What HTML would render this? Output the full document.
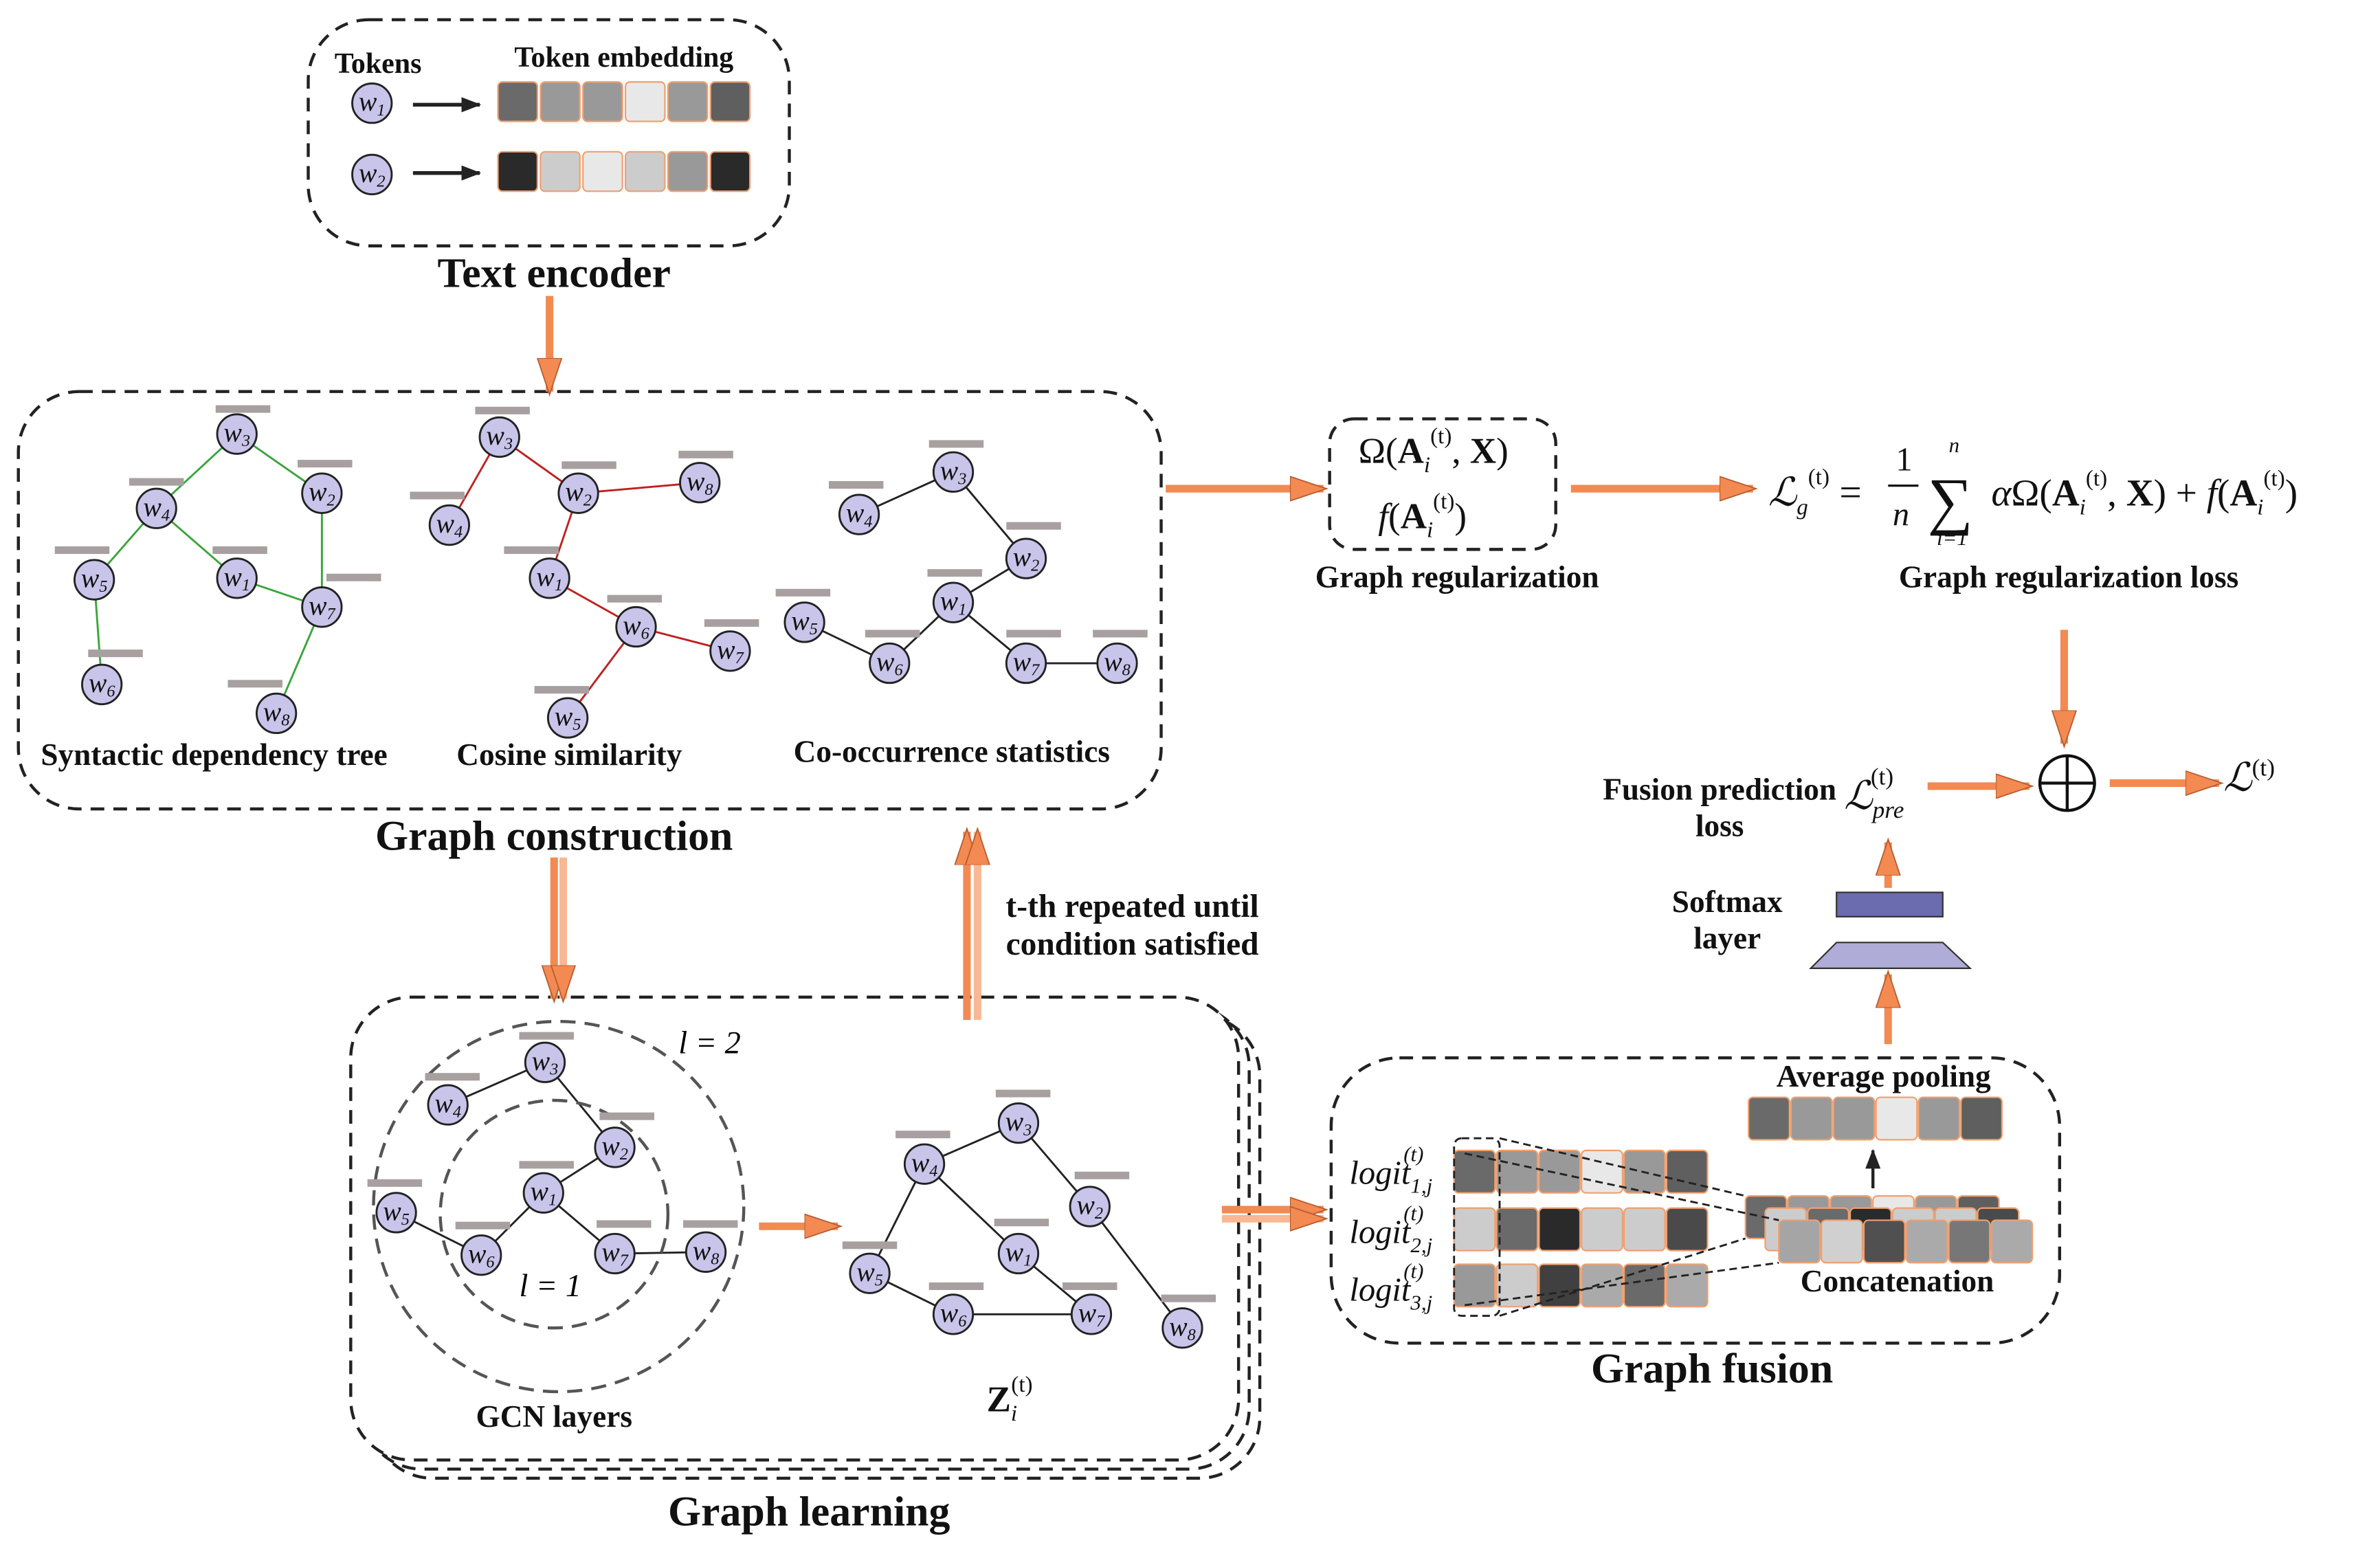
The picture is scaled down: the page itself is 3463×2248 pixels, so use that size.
<!DOCTYPE html>
<html><head><meta charset="utf-8"><style>html,body{margin:0;padding:0;background:#fff}svg{display:block}</style></head><body>
<svg width="3463" height="2248" viewBox="0 0 1568 1018" xmlns="http://www.w3.org/2000/svg" font-family="Liberation Serif, serif">
<defs>
<marker id="oh" markerUnits="userSpaceOnUse" markerWidth="26" markerHeight="20" refX="22" refY="10" orient="auto"><path d="M0,2 L24,10 L0,18 Z" fill="#f28a52" stroke="#b85a30" stroke-width="0.8"/></marker>
<marker id="bh" markerUnits="userSpaceOnUse" markerWidth="14" markerHeight="12" refX="12" refY="6" orient="auto"><path d="M0,1 L13,6 L0,11 Z" fill="#222"/></marker>
</defs>
<g fill="none" stroke="#222" stroke-width="2" stroke-dasharray="9,6">
<rect x="203" y="13" width="317" height="149" rx="40"/>
<rect x="12" y="258" width="753" height="275" rx="40"/>
<rect x="876" y="276" width="149" height="86" rx="16"/>
<rect x="877" y="697" width="480" height="188" rx="45"/>
<rect x="245" y="669" width="585" height="305" rx="40"/>
<rect x="238" y="663" width="585" height="305" rx="40"/>
<rect x="231" y="657" width="585" height="305" rx="40" fill="#fff"/>
</g>
<g font-weight="bold" text-anchor="middle" fill="#111">
<text x="365" y="189" font-size="28">Text encoder</text>
<text x="365" y="560" font-size="28">Graph construction</text>
<text x="533" y="1005" font-size="28">Graph learning</text>
<text x="1128" y="911" font-size="28">Graph fusion</text>
<text x="249" y="48" font-size="19">Tokens</text>
<text x="411" y="44" font-size="19">Token embedding</text>
<text x="141" y="504" font-size="20.5">Syntactic dependency tree</text>
<text x="375" y="504" font-size="20.5">Cosine similarity</text>
<text x="627" y="502" font-size="20.5">Co-occurrence statistics</text>
<text x="960" y="387" font-size="20.5">Graph regularization</text>
<text x="1363" y="387" font-size="20.5">Graph regularization loss</text>
<text x="1133" y="527" font-size="20.5">Fusion prediction</text>
<text x="1133" y="551" font-size="20.5">loss</text>
<text x="1138" y="601" font-size="20.5">Softmax</text>
<text x="1138" y="625" font-size="20.5">layer</text>
<text x="1241" y="716" font-size="20.5">Average pooling</text>
<text x="1250" y="851" font-size="20.5">Concatenation</text>
<text x="365" y="940" font-size="20.5">GCN layers</text>
<text x="746" y="604" font-size="21.5">t-th repeated until</text>
<text x="746" y="629" font-size="21.5">condition satisfied</text>
</g>
<g stroke="#f28a52" stroke-width="5" fill="none" marker-end="url(#oh)">
<line x1="362" y1="195" x2="362" y2="258"/>
<line x1="768" y1="322" x2="872" y2="322"/>
<line x1="1035" y1="322" x2="1155" y2="322"/>
<line x1="1360" y1="415" x2="1360" y2="490"/>
<line x1="1390" y1="516" x2="1462" y2="516"/>
<line x1="1270" y1="518" x2="1337" y2="518"/>
<line x1="1244" y1="585" x2="1244" y2="555"/>
<line x1="1244" y1="688" x2="1244" y2="642"/>
<line x1="500" y1="808" x2="552" y2="808"/>
<line x1="805" y1="797" x2="872" y2="797"/>
<line x1="805" y1="803" x2="872" y2="803" stroke="#f8b894"/>
<line x1="365" y1="565" x2="365" y2="658"/>
<line x1="371" y1="565" x2="371" y2="658" stroke="#f8b894"/>
<line x1="637" y1="672" x2="637" y2="548"/>
<line x1="644" y1="672" x2="644" y2="548" stroke="#f8b894"/>
</g>
<g stroke="#222" stroke-width="2.5" marker-end="url(#bh)"><line x1="272" y1="69" x2="316" y2="69"/><line x1="272" y1="114" x2="316" y2="114"/></g>
<g stroke="#f0a070" stroke-width="1">
<rect x="328" y="54" width="26" height="26" rx="3" fill="#6a6a6a"/><rect x="356" y="54" width="26" height="26" rx="3" fill="#999"/><rect x="384" y="54" width="26" height="26" rx="3" fill="#999"/><rect x="412" y="54" width="26" height="26" rx="3" fill="#e8e8e8"/><rect x="440" y="54" width="26" height="26" rx="3" fill="#999"/><rect x="468" y="54" width="26" height="26" rx="3" fill="#5f5f5f"/>
<rect x="328" y="100" width="26" height="26" rx="3" fill="#2a2a2a"/><rect x="356" y="100" width="26" height="26" rx="3" fill="#ccc"/><rect x="384" y="100" width="26" height="26" rx="3" fill="#e8e8e8"/><rect x="412" y="100" width="26" height="26" rx="3" fill="#ccc"/><rect x="440" y="100" width="26" height="26" rx="3" fill="#999"/><rect x="468" y="100" width="26" height="26" rx="3" fill="#2a2a2a"/>
</g>
<g stroke="#3aa53a" stroke-width="1.3">
<line x1="156" y1="286" x2="103" y2="335"/><line x1="156" y1="286" x2="212" y2="325"/><line x1="103" y1="335" x2="62" y2="382"/><line x1="103" y1="335" x2="156" y2="381"/><line x1="156" y1="381" x2="212" y2="400"/><line x1="212" y1="325" x2="212" y2="400"/><line x1="62" y1="382" x2="67" y2="451"/><line x1="212" y1="400" x2="182" y2="470"/>
</g>
<g stroke="#c02020" stroke-width="1.3">
<line x1="329" y1="288" x2="296" y2="346"/><line x1="329" y1="288" x2="381" y2="325"/><line x1="381" y1="325" x2="461" y2="318"/><line x1="381" y1="325" x2="362" y2="381"/><line x1="362" y1="381" x2="419" y2="413"/><line x1="419" y1="413" x2="481" y2="429"/><line x1="419" y1="413" x2="374" y2="473"/>
</g>
<g stroke="#222" stroke-width="1.3">
<line x1="628" y1="311" x2="566" y2="339"/><line x1="628" y1="311" x2="676" y2="368"/><line x1="676" y1="368" x2="628" y2="397"/><line x1="628" y1="397" x2="586" y2="437"/><line x1="530" y1="410" x2="586" y2="437"/><line x1="628" y1="397" x2="676" y2="437"/><line x1="676" y1="437" x2="736" y2="437"/>
<line x1="359" y1="700" x2="295" y2="728"/><line x1="359" y1="700" x2="405" y2="756"/><line x1="405" y1="756" x2="358" y2="786"/><line x1="358" y1="786" x2="317" y2="827"/><line x1="358" y1="786" x2="405" y2="826"/><line x1="261" y1="799" x2="317" y2="827"/><line x1="405" y1="826" x2="465" y2="825"/>
<line x1="671" y1="740" x2="609" y2="767"/><line x1="671" y1="740" x2="718" y2="795"/><line x1="609" y1="767" x2="671" y2="826"/><line x1="609" y1="767" x2="573" y2="839"/><line x1="573" y1="839" x2="628" y2="866"/><line x1="628" y1="866" x2="719" y2="866"/><line x1="671" y1="826" x2="719" y2="866"/><line x1="718" y1="795" x2="779" y2="875"/>
</g>
<g fill="none" stroke="#555" stroke-width="2" stroke-dasharray="10,6"><circle cx="368" cy="795" r="122"/><circle cx="365" cy="800" r="75"/></g>
<g font-style="italic" font-size="21"><text x="447" y="694">l = 2</text><text x="342" y="854">l = 1</text></g>
<g fill="#c8c4ea" stroke="#222" stroke-width="1.3">
<circle cx="245" cy="68" r="13"/><circle cx="245" cy="115" r="13"/>
<circle cx="156" cy="286" r="13"/><circle cx="103" cy="335" r="13"/><circle cx="212" cy="325" r="13"/><circle cx="156" cy="381" r="13"/><circle cx="62" cy="382" r="13"/><circle cx="212" cy="400" r="13"/><circle cx="67" cy="451" r="13"/><circle cx="182" cy="470" r="13"/>
<circle cx="329" cy="288" r="13"/><circle cx="296" cy="346" r="13"/><circle cx="381" cy="325" r="13"/><circle cx="461" cy="318" r="13"/><circle cx="362" cy="381" r="13"/><circle cx="419" cy="413" r="13"/><circle cx="481" cy="429" r="13"/><circle cx="374" cy="473" r="13"/>
<circle cx="628" cy="311" r="13"/><circle cx="566" cy="339" r="13"/><circle cx="676" cy="368" r="13"/><circle cx="628" cy="397" r="13"/><circle cx="530" cy="410" r="13"/><circle cx="586" cy="437" r="13"/><circle cx="676" cy="437" r="13"/><circle cx="736" cy="437" r="13"/>
<circle cx="359" cy="700" r="13"/><circle cx="295" cy="728" r="13"/><circle cx="405" cy="756" r="13"/><circle cx="358" cy="786" r="13"/><circle cx="261" cy="799" r="13"/><circle cx="317" cy="827" r="13"/><circle cx="405" cy="826" r="13"/><circle cx="465" cy="825" r="13"/>
<circle cx="671" cy="740" r="13"/><circle cx="609" cy="767" r="13"/><circle cx="718" cy="795" r="13"/><circle cx="671" cy="826" r="13"/><circle cx="573" cy="839" r="13"/><circle cx="628" cy="866" r="13"/><circle cx="719" cy="866" r="13"/><circle cx="779" cy="875" r="13"/>
</g>
<g font-style="italic" font-size="18" text-anchor="middle" fill="#111">
<text x="245" y="73">w<tspan font-size="11" dy="3">1</tspan></text><text x="245" y="120">w<tspan font-size="11" dy="3">2</tspan></text>
<text x="156" y="291">w<tspan font-size="11" dy="3">3</tspan></text><text x="103" y="340">w<tspan font-size="11" dy="3">4</tspan></text><text x="212" y="330">w<tspan font-size="11" dy="3">2</tspan></text><text x="156" y="386">w<tspan font-size="11" dy="3">1</tspan></text><text x="62" y="387">w<tspan font-size="11" dy="3">5</tspan></text><text x="212" y="405">w<tspan font-size="11" dy="3">7</tspan></text><text x="67" y="456">w<tspan font-size="11" dy="3">6</tspan></text><text x="182" y="475">w<tspan font-size="11" dy="3">8</tspan></text>
<text x="329" y="293">w<tspan font-size="11" dy="3">3</tspan></text><text x="296" y="351">w<tspan font-size="11" dy="3">4</tspan></text><text x="381" y="330">w<tspan font-size="11" dy="3">2</tspan></text><text x="461" y="323">w<tspan font-size="11" dy="3">8</tspan></text><text x="362" y="386">w<tspan font-size="11" dy="3">1</tspan></text><text x="419" y="418">w<tspan font-size="11" dy="3">6</tspan></text><text x="481" y="434">w<tspan font-size="11" dy="3">7</tspan></text><text x="374" y="478">w<tspan font-size="11" dy="3">5</tspan></text>
<text x="628" y="316">w<tspan font-size="11" dy="3">3</tspan></text><text x="566" y="344">w<tspan font-size="11" dy="3">4</tspan></text><text x="676" y="373">w<tspan font-size="11" dy="3">2</tspan></text><text x="628" y="402">w<tspan font-size="11" dy="3">1</tspan></text><text x="530" y="415">w<tspan font-size="11" dy="3">5</tspan></text><text x="586" y="442">w<tspan font-size="11" dy="3">6</tspan></text><text x="676" y="442">w<tspan font-size="11" dy="3">7</tspan></text><text x="736" y="442">w<tspan font-size="11" dy="3">8</tspan></text>
<text x="359" y="705">w<tspan font-size="11" dy="3">3</tspan></text><text x="295" y="733">w<tspan font-size="11" dy="3">4</tspan></text><text x="405" y="761">w<tspan font-size="11" dy="3">2</tspan></text><text x="358" y="791">w<tspan font-size="11" dy="3">1</tspan></text><text x="261" y="804">w<tspan font-size="11" dy="3">5</tspan></text><text x="317" y="832">w<tspan font-size="11" dy="3">6</tspan></text><text x="405" y="831">w<tspan font-size="11" dy="3">7</tspan></text><text x="465" y="830">w<tspan font-size="11" dy="3">8</tspan></text>
<text x="671" y="745">w<tspan font-size="11" dy="3">3</tspan></text><text x="609" y="772">w<tspan font-size="11" dy="3">4</tspan></text><text x="718" y="800">w<tspan font-size="11" dy="3">2</tspan></text><text x="671" y="831">w<tspan font-size="11" dy="3">1</tspan></text><text x="573" y="844">w<tspan font-size="11" dy="3">5</tspan></text><text x="628" y="871">w<tspan font-size="11" dy="3">6</tspan></text><text x="719" y="871">w<tspan font-size="11" dy="3">7</tspan></text><text x="779" y="880">w<tspan font-size="11" dy="3">8</tspan></text>
</g>
<g fill="#a8a0a0">
<rect x="142" y="267" width="36" height="5"/><rect x="85" y="315" width="36" height="5"/><rect x="196" y="303" width="36" height="5"/><rect x="140" y="360" width="36" height="5"/><rect x="36" y="360" width="36" height="5"/><rect x="215" y="378" width="36" height="5"/><rect x="58" y="428" width="36" height="5"/><rect x="150" y="448" width="36" height="5"/>
<rect x="313" y="268" width="36" height="5"/><rect x="270" y="324" width="36" height="5"/><rect x="370" y="304" width="36" height="5"/><rect x="447" y="297" width="36" height="5"/><rect x="332" y="360" width="36" height="5"/><rect x="400" y="392" width="36" height="5"/><rect x="464" y="408" width="36" height="5"/><rect x="352" y="452" width="36" height="5"/>
<rect x="612" y="290" width="36" height="5"/><rect x="546" y="317" width="36" height="5"/><rect x="663" y="344" width="36" height="5"/><rect x="611" y="375" width="36" height="5"/><rect x="511" y="388" width="36" height="5"/><rect x="570" y="415" width="36" height="5"/><rect x="663" y="415" width="36" height="5"/><rect x="720" y="415" width="36" height="5"/>
<rect x="342" y="680" width="36" height="5"/><rect x="280" y="707" width="36" height="5"/><rect x="395" y="733" width="36" height="5"/><rect x="342" y="765" width="36" height="5"/><rect x="242" y="777" width="36" height="5"/><rect x="300" y="805" width="36" height="5"/><rect x="393" y="804" width="36" height="5"/><rect x="450" y="804" width="36" height="5"/>
<rect x="656" y="718" width="36" height="5"/><rect x="590" y="745" width="36" height="5"/><rect x="708" y="772" width="36" height="5"/><rect x="655" y="803" width="36" height="5"/><rect x="555" y="818" width="36" height="5"/><rect x="612" y="845" width="36" height="5"/><rect x="700" y="845" width="36" height="5"/><rect x="765" y="853" width="36" height="5"/>
</g>
<g font-size="24" fill="#111">
<text x="895" y="305">Ω(<tspan font-weight="bold">A</tspan><tspan font-size="15" dy="6" font-style="italic">i</tspan><tspan font-size="15" dy="-19">(t)</tspan><tspan dy="13">, </tspan><tspan font-weight="bold">X</tspan>)</text>
<text x="908" y="348"><tspan font-style="italic">f</tspan>(<tspan font-weight="bold">A</tspan><tspan font-size="15" dy="6" font-style="italic">i</tspan><tspan font-size="15" dy="-19">(t)</tspan><tspan dy="13">)</tspan></text>
<text x="1165" y="333" font-size="26"><tspan font-style="italic">ℒ</tspan><tspan font-size="15" dy="6" font-style="italic">g</tspan><tspan font-size="15" dy="-20">(t)</tspan><tspan dy="14"> = </tspan></text>
<text x="1249" y="310" font-size="22">1</text><line x1="1244" y1="320" x2="1264" y2="320" stroke="#111" stroke-width="1.5"/><text x="1247" y="346" font-size="22" font-style="italic">n</text>
<text x="1270" y="344" font-size="42">∑</text><text x="1284" y="298" font-size="14" font-style="italic">n</text><text x="1276" y="359" font-size="14" font-style="italic">i=1</text>
<text x="1312" y="333" font-size="25"><tspan font-style="italic">α</tspan>Ω(<tspan font-weight="bold">A</tspan><tspan font-size="15" dy="6" font-style="italic">i</tspan><tspan font-size="15" dy="-19">(t)</tspan><tspan dy="13">, </tspan><tspan font-weight="bold">X</tspan>) + <tspan font-style="italic">f</tspan>(<tspan font-weight="bold">A</tspan><tspan font-size="15" dy="6" font-style="italic">i</tspan><tspan font-size="15" dy="-19">(t)</tspan><tspan dy="13">)</tspan></text>
<text x="1215" y="533" font-size="26"><tspan font-style="italic">ℒ</tspan><tspan font-size="16" dy="6" font-style="italic">pre</tspan><tspan font-size="16" dx="-22" dy="-22">(t)</tspan></text>
<text x="1465" y="521" font-size="26"><tspan font-style="italic">ℒ</tspan><tspan font-size="16" dy="-10">(t)</tspan></text>
<text x="650" y="930" font-size="24"><tspan font-weight="bold">Z</tspan><tspan font-size="15" dy="6" font-style="italic">i</tspan><tspan font-size="15" dx="-4" dy="-19">(t)</tspan></text>
<g font-style="italic" font-size="22"><text x="889" y="780">logit<tspan font-size="14" dy="6">1,j</tspan><tspan font-size="14" dx="-19" dy="-21">(t)</tspan></text>
<text x="889" y="819">logit<tspan font-size="14" dy="6">2,j</tspan><tspan font-size="14" dx="-19" dy="-21">(t)</tspan></text>
<text x="889" y="857">logit<tspan font-size="14" dy="6">3,j</tspan><tspan font-size="14" dx="-19" dy="-21">(t)</tspan></text></g>
</g>
<circle cx="1362" cy="516" r="18" fill="#fff" stroke="#111" stroke-width="2"/><line x1="1344" y1="516" x2="1380" y2="516" stroke="#111" stroke-width="2"/><line x1="1362" y1="498" x2="1362" y2="534" stroke="#111" stroke-width="2"/>
<rect x="1210" y="588" width="70" height="16" fill="#6b6bb0" stroke="#333"/>
<path d="M1210,621 L1280,621 L1298,638 L1193,638 Z" fill="#b0acd8" stroke="#333"/>
<g stroke="#f0a070" stroke-width="1">
<rect x="1152" y="723" width="27" height="28" rx="3" fill="#6a6a6a"/><rect x="1180" y="723" width="27" height="28" rx="3" fill="#999"/><rect x="1208" y="723" width="27" height="28" rx="3" fill="#999"/><rect x="1236" y="723" width="27" height="28" rx="3" fill="#e8e8e8"/><rect x="1264" y="723" width="27" height="28" rx="3" fill="#999"/><rect x="1292" y="723" width="27" height="28" rx="3" fill="#5f5f5f"/>
<rect x="958" y="758" width="27" height="28" rx="3" fill="#6a6a6a"/><rect x="986" y="758" width="27" height="28" rx="3" fill="#999"/><rect x="1014" y="758" width="27" height="28" rx="3" fill="#999"/><rect x="1042" y="758" width="27" height="28" rx="3" fill="#e8e8e8"/><rect x="1070" y="758" width="27" height="28" rx="3" fill="#999"/><rect x="1098" y="758" width="27" height="28" rx="3" fill="#5f5f5f"/>
<rect x="958" y="796" width="27" height="28" rx="3" fill="#ccc"/><rect x="986" y="796" width="27" height="28" rx="3" fill="#6a6a6a"/><rect x="1014" y="796" width="27" height="28" rx="3" fill="#2a2a2a"/><rect x="1042" y="796" width="27" height="28" rx="3" fill="#ccc"/><rect x="1070" y="796" width="27" height="28" rx="3" fill="#ccc"/><rect x="1098" y="796" width="27" height="28" rx="3" fill="#4a4a4a"/>
<rect x="958" y="833" width="27" height="28" rx="3" fill="#999"/><rect x="986" y="833" width="27" height="28" rx="3" fill="#ccc"/><rect x="1014" y="833" width="27" height="28" rx="3" fill="#404040"/><rect x="1042" y="833" width="27" height="28" rx="3" fill="#aaa"/><rect x="1070" y="833" width="27" height="28" rx="3" fill="#6a6a6a"/><rect x="1098" y="833" width="27" height="28" rx="3" fill="#aaa"/>
<rect x="1150" y="788" width="27" height="28" rx="3" fill="#6a6a6a"/><rect x="1178" y="788" width="27" height="28" rx="3" fill="#999"/><rect x="1206" y="788" width="27" height="28" rx="3" fill="#999"/><rect x="1234" y="788" width="27" height="28" rx="3" fill="#e8e8e8"/><rect x="1262" y="788" width="27" height="28" rx="3" fill="#999"/><rect x="1290" y="788" width="27" height="28" rx="3" fill="#5f5f5f"/>
<rect x="1163" y="796" width="27" height="28" rx="3" fill="#ccc"/><rect x="1191" y="796" width="27" height="28" rx="3" fill="#6a6a6a"/><rect x="1219" y="796" width="27" height="28" rx="3" fill="#2a2a2a"/><rect x="1247" y="796" width="27" height="28" rx="3" fill="#ccc"/><rect x="1275" y="796" width="27" height="28" rx="3" fill="#ccc"/><rect x="1303" y="796" width="27" height="28" rx="3" fill="#4a4a4a"/>
<rect x="1172" y="804" width="27" height="28" rx="3" fill="#a5a5a5"/><rect x="1200" y="804" width="27" height="28" rx="3" fill="#d0d0d0"/><rect x="1228" y="804" width="27" height="28" rx="3" fill="#505050"/><rect x="1256" y="804" width="27" height="28" rx="3" fill="#aaa"/><rect x="1284" y="804" width="27" height="28" rx="3" fill="#777"/><rect x="1312" y="804" width="27" height="28" rx="3" fill="#aaa"/>
</g>
<g fill="none" stroke="#222" stroke-width="1.3" stroke-dasharray="5,3">
<rect x="958" y="750" width="30" height="117" rx="5"/>
<line x1="988" y1="750" x2="1150" y2="788"/><line x1="988" y1="867" x2="1150" y2="816"/><line x1="965" y1="760" x2="1172" y2="804"/><line x1="965" y1="860" x2="1172" y2="832"/>
</g>
<line x1="1234" y1="783" x2="1234" y2="758" stroke="#222" stroke-width="2" marker-end="url(#bh)"/>
</svg>
</body></html>
